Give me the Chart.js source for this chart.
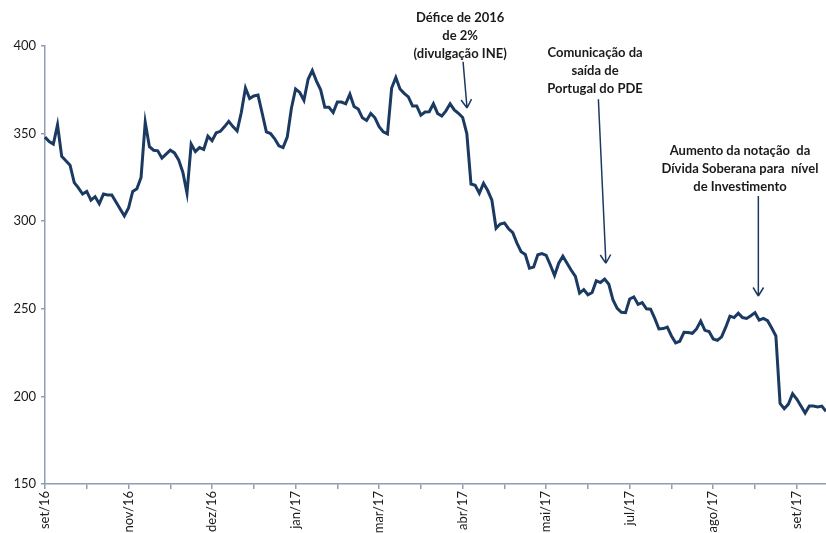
<!DOCTYPE html>
<html>
<head>
<meta charset="utf-8">
<script src="https://cdn.jsdelivr.net/npm/chart.js@4.4.1/dist/chart.umd.min.js"></script>
<style>
  html, body { margin: 0; padding: 0; background: #fff; }
  #wrap { width: 826px; height: 533px; position: relative; }
</style>
</head>
<body>
<div id="wrap"><canvas id="chart"></canvas></div>
<script>
// month labels shown on the x axis, one every 20 points
const monthTicks = ['set/16', 'nov/16', 'dez/16', 'jan/17', 'mar/17', 'abr/17', 'mai/17', 'jul/17', 'ago/17', 'set/17'];
const pointsPerLabel = 20;

// series values
const spread = [
  348, 345.5, 344, 355, 337, 334.5, 332, 322, 319, 315.5,
  317, 312, 314, 310, 315.5, 315, 315, 311, 307, 303,
  307.5, 317, 318.5, 325, 356.5, 342.5, 340.5, 340.2, 336, 338.3,
  340.5, 339, 335, 328, 316, 344, 339.7, 342, 341, 348.5,
  346, 350.5, 351.3, 354, 357, 354, 351.5, 362, 376, 370,
  371.5, 372, 361.6, 351, 350, 347, 343, 342, 348, 364.5,
  375.5, 373.5, 369, 381, 386, 380, 375, 365, 365, 362,
  368, 368, 367, 372.5, 365.5, 364, 359, 357.5, 361.5, 359,
  354, 351, 349.8, 376, 382, 375.5, 373, 371, 365.8, 365.8,
  360.5, 362.3, 362.5, 367, 361.5, 360, 363, 367, 363.5, 361.6,
  359.2, 350, 321.2, 320.5, 316, 321.6, 317.5, 312, 296, 298.4,
  299, 295.7, 293.5, 287.5, 282.6, 281, 273.2, 273.8, 280.8, 281.5,
  280.5, 275, 269, 276, 280, 276, 272, 268.5, 259, 261,
  258, 259.3, 266, 265, 267, 264, 255, 250.2, 248, 247.8,
  255.6, 256.8, 252.5, 253.5, 250, 249.8, 244.5, 238.5, 238.7, 239.6,
  234.5, 230.6, 231.5, 236.6, 236.5, 236, 238.5, 243, 237.7, 237,
  232.8, 232, 234, 239.5, 245.8, 245, 247.5, 245, 244.5, 246,
  247.8, 243.5, 244.5, 243.2, 239, 234.5, 196, 193, 195.6, 201.5,
  198.5, 194.5, 190.5, 194.5, 194.5, 194, 194.5, 191.5
];

// y axis range
const yMin = 150, yMax = 400, yStep = 50;

// annotations: text block and arrow, in data coordinates (point index, value)
const notes = [
  { lines: ['Défice de 2016', 'de 2%', '(divulgação INE)'], at: [99.4, 416], from: [100.1, 391], to: [101.05, 364.6] },
  { lines: ['Comunicação da', 'saída de', 'Portugal do PDE'], at: [131.7, 396.2], from: [132.5, 369.6], to: [134.3, 276] },
  { lines: ['Aumento da notação  da', 'Dívida Soberana para  nível', 'de Investimento'], at: [166.4, 340.2], from: [170.8, 314.4], to: [170.8, 257.3] }
];

const categories = spread.map((_, i) => monthTicks[Math.floor(i / pointsPerLabel)]);

const navy = '#1b3a62';
const axisGrey = '#8f9cb6';

const notesPlugin = {
  id: 'notes',
  afterDatasetsDraw(chart) {
    const { ctx, scales: { x, y } } = chart;
    ctx.save();
    notes.forEach(n => {
      ctx.font = 'bold 13px Lato, "Open Sans", sans-serif';
      ctx.fillStyle = '#1a1a1a';
      ctx.textAlign = 'center';
      ctx.textBaseline = 'middle';
      const tx = x.getPixelForValue(n.at[0]);
      const ty = y.getPixelForValue(n.at[1]);
      n.lines.forEach((l, k) => ctx.fillText(l, tx, ty + k * 18));

      const x0 = x.getPixelForValue(n.from[0]), y0 = y.getPixelForValue(n.from[1]);
      const x1 = x.getPixelForValue(n.to[0]), y1 = y.getPixelForValue(n.to[1]);
      ctx.strokeStyle = navy;
      ctx.lineWidth = 1.5;
      ctx.beginPath();
      ctx.moveTo(x0, y0);
      ctx.lineTo(x1, y1);
      const ang = Math.atan2(y1 - y0, x1 - x0);
      [0.55, -0.55].forEach(d => {
        ctx.moveTo(x1, y1);
        ctx.lineTo(x1 + 10 * Math.cos(ang + Math.PI + d), y1 + 10 * Math.sin(ang + Math.PI + d));
      });
      ctx.stroke();
    });
    ctx.restore();
  }
};

new Chart(document.getElementById('chart'), {
  type: 'line',
  data: {
    labels: categories,
    datasets: [{
      data: spread,
      borderColor: navy,
      borderWidth: 3,
      pointRadius: 0,
      tension: 0,
      fill: false
    }]
  },
  options: {
    responsive: true,
    maintainAspectRatio: false,
    animation: false,
    layout: { padding: { top: 46, right: 0, left: 0, bottom: 0 } },
    plugins: { legend: { display: false }, tooltip: { enabled: false } },
    scales: {
      x: {
        type: 'category',
        offset: false,
        afterFit: s => { s.height = 49; },
        border: { color: axisGrey, width: 1.5 },
        grid: { drawOnChartArea: false, drawTicks: true, tickLength: 5, color: axisGrey, lineWidth: 1.5 },
        ticks: {
          autoSkip: false,
          minRotation: 90,
          maxRotation: 90,
          padding: 2,
          color: '#1a1a1a',
          font: { family: 'Lato, "Open Sans", sans-serif', size: 13 },
          callback: function (v, i) {
            if (i % pointsPerLabel === 0) return this.getLabelForValue(v);
            if (i % (pointsPerLabel / 2) === 0) return '';
            return null;
          }
        }
      },
      y: {
        min: yMin,
        max: yMax,
        afterFit: s => { s.width = 45; },
        border: { color: axisGrey, width: 1.5 },
        grid: { drawOnChartArea: false, drawTicks: true, tickLength: 4, color: axisGrey, lineWidth: 1.5 },
        ticks: {
          stepSize: yStep,
          padding: 5,
          color: '#1a1a1a',
          font: { family: 'Lato, "Open Sans", sans-serif', size: 13 }
        }
      }
    }
  },
  plugins: [notesPlugin]
});
</script>
</body>
</html>
